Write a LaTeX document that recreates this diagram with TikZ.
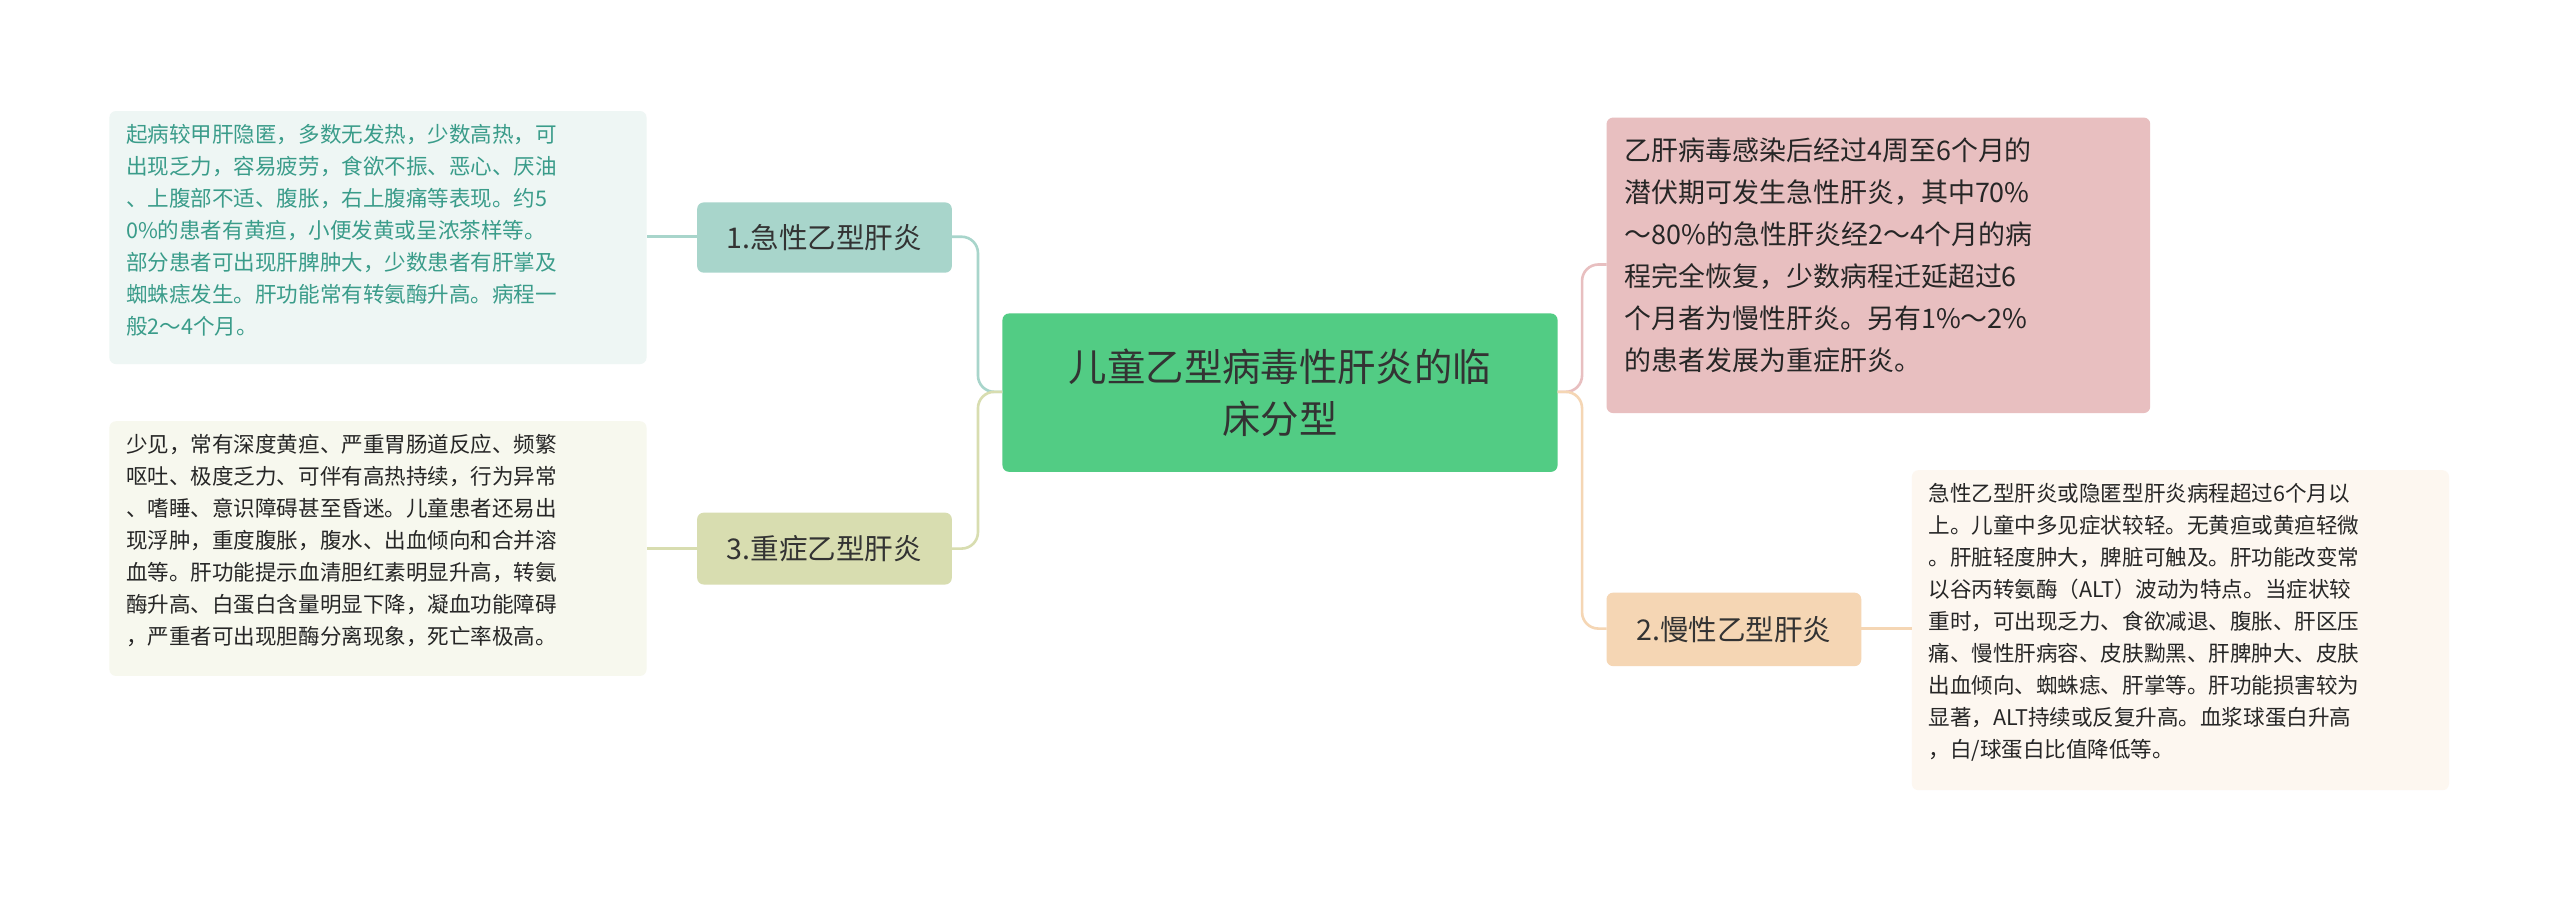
\documentclass[tikz,border=0pt]{standalone}
\usepackage{fontspec}
\setmainfont{Noto Sans CJK SC}
\begin{document}
\begin{tikzpicture}[x=1pt,y=-1pt,
 box/.style={rounded corners=4pt,inner sep=0pt,anchor=north west},
 leaf/.style={font=\fontsize{13.2}{19.6}\selectfont,align=left,anchor=north west,inner sep=0pt},
 mid/.style={font=\fontsize{17.5}{20}\selectfont,text=black!80},
 link/.style={line width=1.6pt,rounded corners=10pt}]
\useasboundingbox[fill=white] (0,0) rectangle (1568,552);
% boxes
\fill[fill={rgb,255:red,82;green,204;blue,132},rounded corners=4pt] (614,192) rectangle (954,289);
\node[font=\fontsize{23.5}{32}\selectfont,align=center,text=black!80] (c) at (784,240.5) {儿童乙型病毒性肝炎的临\\床分型};
\coordinate (cl) at (614,240); \coordinate (cr) at (954,240);
\fill[fill={rgb,255:red,168;green,213;blue,203},rounded corners=4pt] (427,124) rectangle (583,167);
\node[mid] (n1) at (505,145.5) {1.急性乙型肝炎};
\coordinate (n1l) at (427,145); \coordinate (n1r) at (583,145);
\fill[fill={rgb,255:red,216;green,221;blue,176},rounded corners=4pt] (427,314) rectangle (583,358);
\node[mid] (n3) at (505,336) {3.重症乙型肝炎};
\coordinate (n3l) at (427,336); \coordinate (n3r) at (583,336);
\fill[fill={rgb,255:red,245;green,214;blue,180},rounded corners=4pt] (984,363) rectangle (1140,408);
\node[mid] (n2) at (1062,385.5) {2.慢性乙型肝炎};
\coordinate (n2l) at (984,385); \coordinate (n2r) at (1140,385);
\fill[fill={rgb,255:red,238;green,246;blue,244},rounded corners=4pt] (67,68) rectangle (396,223);
\node[leaf,text={rgb,255:red,58;green,156;blue,138}] (l1) at (77,76) {起病较甲肝隐匿，多数无发热，少数高热，可\\出现乏力，容易疲劳，食欲不振、恶心、厌油\\、上腹部不适、腹胀，右上腹痛等表现。约5\\0\%的患者有黄疸，小便发黄或呈浓茶样等。\\部分患者可出现肝脾肿大，少数患者有肝掌及\\蜘蛛痣发生。肝功能常有转氨酶升高。病程一\\般2～4个月。};
\coordinate (l1r) at (396,145);
\fill[fill={rgb,255:red,247;green,248;blue,238},rounded corners=4pt] (67,258) rectangle (396,414);
\node[leaf,text=black!85] (l3) at (77,266) {少见，常有深度黄疸、严重胃肠道反应、频繁\\呕吐、极度乏力、可伴有高热持续，行为异常\\、嗜睡、意识障碍甚至昏迷。儿童患者还易出\\现浮肿，重度腹胀，腹水、出血倾向和合并溶\\血等。肝功能提示血清胆红素明显升高，转氨\\酶升高、白蛋白含量明显下降，凝血功能障碍\\，严重者可出现胆酶分离现象，死亡率极高。};
\coordinate (l3r) at (396,336);
\fill[fill={rgb,255:red,232;green,191;blue,192},rounded corners=4pt] (984,72) rectangle (1317,253);
\node[anchor=north west,inner sep=0pt,font=\fontsize{16.5}{25.8}\selectfont,align=left,text=black!85] (r1) at (995,84) {乙肝病毒感染后经过4周至6个月的\\潜伏期可发生急性肝炎，其中70\%\\～80\%的急性肝炎经2～4个月的病\\程完全恢复，少数病程迁延超过6\\个月者为慢性肝炎。另有1\%～2\%\\的患者发展为重症肝炎。};
\coordinate (r1l) at (984,162);
\fill[fill={rgb,255:red,253;green,247;blue,240},rounded corners=4pt] (1171,288) rectangle (1500,484);
\node[leaf,text=black!85] (l2) at (1181,296) {急性乙型肝炎或隐匿型肝炎病程超过6个月以\\上。儿童中多见症状较轻。无黄疸或黄疸轻微\\。肝脏轻度肿大，脾脏可触及。肝功能改变常\\以谷丙转氨酶（ALT）波动为特点。当症状较\\重时，可出现乏力、食欲减退、腹胀、肝区压\\痛、慢性肝病容、皮肤黝黑、肝脾肿大、皮肤\\出血倾向、蜘蛛痣、肝掌等。肝功能损害较为\\显著，ALT持续或反复升高。血浆球蛋白升高\\，白/球蛋白比值降低等。};
\coordinate (l2l) at (1171,385);
% links
\draw[link,draw={rgb,255:red,168;green,213;blue,203}] (cl) -- (599,240) -- (599,145) -- (n1r);
\draw[link,draw={rgb,255:red,216;green,221;blue,176}] (cl) -- (599,240) -- (599,336) -- (n3r);
\draw[link,draw={rgb,255:red,168;green,213;blue,203}] (n1l) -- (l1r);
\draw[link,draw={rgb,255:red,216;green,221;blue,176}] (n3l) -- (l3r);
\draw[link,draw={rgb,255:red,232;green,191;blue,192}] (cr) -- (969,240) -- (969,162) -- (r1l);
\draw[link,draw={rgb,255:red,245;green,214;blue,180}] (cr) -- (969,240) -- (969,385) -- (n2l);
\draw[link,draw={rgb,255:red,245;green,214;blue,180}] (n2r) -- (l2l);
\end{tikzpicture}
\end{document}
